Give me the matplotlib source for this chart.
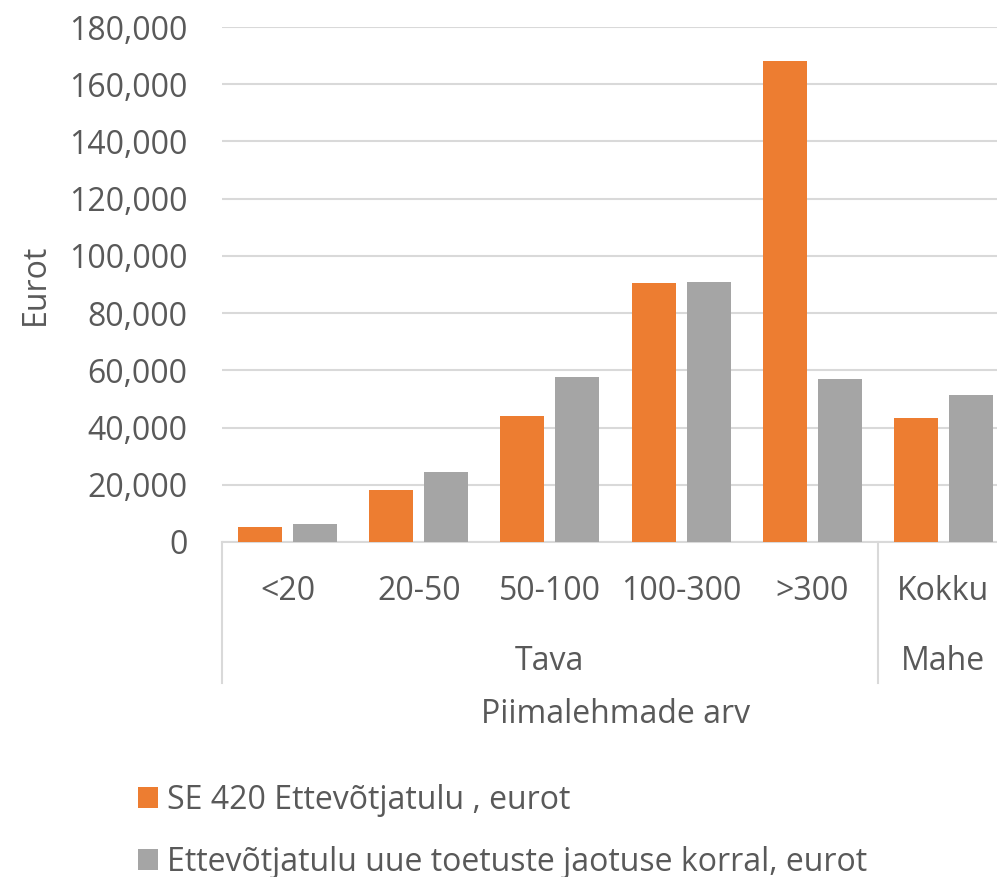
import matplotlib.pyplot as plt
from matplotlib.ticker import FuncFormatter
import numpy as np

# Andmed
kategooriad = ["<20", "20-50", "50-100", "100-300", ">300", "Kokku"]
grupid = ["Tava", "Mahe"]
grupi_suurus = [5, 1]
se420 = [5200, 18200, 44100, 90400, 168200, 43200]
uus_jaotus = [6200, 24500, 57700, 90900, 56900, 51400]
seeria_nimed = ["SE 420 Ettevõtjatulu , eurot",
                "Ettevõtjatulu uue toetuste jaotuse korral, eurot"]

oranz = "#ED7D31"
hall = "#A5A5A5"
tekst = "#595959"
joon = "#D9D9D9"
fs = 23

plt.rcParams['font.family'] = ['Open Sans', 'DejaVu Sans']

fig = plt.figure(figsize=(9.97, 8.77), dpi=100)
ax = fig.add_axes([222 / 997, 1 - 542 / 877, 787 / 997, 515 / 877])

x = np.arange(len(kategooriad))
laius = 0.335
ax.bar(x - 0.21, se420, laius, color=oranz, label=seeria_nimed[0], zorder=3)
ax.bar(x + 0.21, uus_jaotus, laius, color=hall, label=seeria_nimed[1], zorder=3)

ax.set_xlim(-0.5, len(kategooriad) - 0.5)
ax.set_ylim(0, 180000)
ax.set_yticks(np.arange(0, 180001, 20000))
ax.yaxis.set_major_formatter(FuncFormatter(lambda v, p: f"{int(v):,}"))
ax.tick_params(axis='y', length=0, pad=25, labelsize=fs, labelcolor=tekst)
ax.set_xticks([])
ax.grid(axis='y', color=joon, linewidth=1.5, zorder=0)
for s in ["top", "right", "left"]:
    ax.spines[s].set_visible(False)
ax.spines["bottom"].set_color(joon)
ax.spines["bottom"].set_linewidth(1.5)

ax.set_ylabel("Eurot", fontsize=fs, color=tekst, labelpad=12)

# mitmetasandiline kategooriate telg
trans = ax.get_xaxis_transform()
for i, k in enumerate(kategooriad):
    ax.text(i, -0.097, k, transform=trans, ha='center', va='center',
            fontsize=fs, color=tekst)
algus = -0.5
for g, n in zip(grupid, grupi_suurus):
    ax.plot([algus, algus], [0, -0.274], transform=trans, color=joon,
            linewidth=1.5, clip_on=False)
    ax.text(algus + n / 2, -0.233, g, transform=trans, ha='center',
            va='center', fontsize=fs, color=tekst)
    algus += n
ax.text(0.5, -0.335, "Piimalehmade arv", transform=ax.transAxes,
        ha='center', va='center', fontsize=fs, color=tekst)

fig.legend(loc='upper left', bbox_to_anchor=(138 / 997, 1 - 784 / 877),
           frameon=False, fontsize=fs, labelcolor=tekst, handlelength=0.62,
           handleheight=0.62, handletextpad=0.3, labelspacing=0.9,
           borderpad=0, borderaxespad=0)

fig.savefig("out.png", dpi=100)
